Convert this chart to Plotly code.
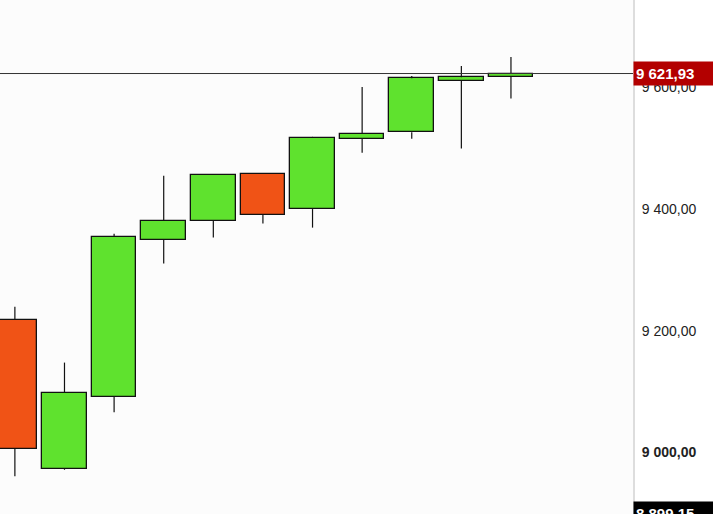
import plotly.graph_objects as go

# ---- data ----
idx = list(range(11))
opens  = [9217.5, 8973.3, 9091.3, 9348.7, 9379.8, 9456.9, 9399.5, 9514.8, 9525.7, 9610.3, 9616.9]
highs  = [9239.0, 9147.5, 9359.0, 9454.0, 9456.8, 9457.0, 9518.0, 9600.0, 9618.0, 9634.4, 9649.0]
lows   = [8961.0, 8971.6, 9066.0, 9310.3, 9353.0, 9375.9, 9369.0, 9491.8, 9514.8, 9498.9, 9580.8]
closes = [9006.0, 9097.9, 9354.0, 9379.8, 9455.2, 9389.7, 9516.4, 9523.0, 9614.3, 9615.9, 9621.93]

last_price = 9621.93
last_label = "9 621,93"
low_mark = 8899.15
low_label = "8 899,15"

tick_vals = [9000, 9200, 9400, 9600]
tick_text = ["<b>9 000,00</b>", "9 200,00", "9 400,00", "9 600,00"]

GREEN = "#5fe22e"
RED = "#f05316"

# wicks built from the data (upper and lower parts, so they do not cross the bodies)
wx, wy = [], []
for i, o, h, lo, c in zip(idx, opens, highs, lows, closes):
    top, bot = max(o, c), min(o, c)
    wx += [i, i, None, i, i, None]
    wy += [top, h, None, lo, bot, None]

body_base = [min(o, c) for o, c in zip(opens, closes)]
body_len = [abs(c - o) for o, c in zip(opens, closes)]
body_col = [GREEN if c >= o else RED for o, c in zip(opens, closes)]

fig = go.Figure()
fig.add_trace(go.Bar(x=idx, y=body_len, base=body_base, width=0.9,
                     marker=dict(color=body_col, line=dict(color="#111111", width=1.3)),
                     showlegend=False, hoverinfo="skip"))
fig.add_trace(go.Scatter(x=wx, y=wy, mode="lines", line=dict(color="#111111", width=1.2),
                         showlegend=False, hoverinfo="skip"))

fig.add_shape(type="line", xref="paper", x0=0, x1=1, yref="y", y0=last_price, y1=last_price,
              line=dict(color="#333333", width=1))

fig.add_annotation(xref="paper", x=1, xanchor="left", yref="y", y=last_price, yanchor="middle",
                   text="<b>" + last_label + "</b>", showarrow=False, align="left",
                   width=76, height=19, bgcolor="#b30000", borderpad=2,
                   font=dict(family="Liberation Sans, Arial", size=15, color="white"))
fig.add_annotation(xref="paper", x=1, xanchor="left", yref="y", y=low_mark, yanchor="middle",
                   text="<b>" + low_label + "</b>", showarrow=False, align="left",
                   width=76, height=19, bgcolor="#000000", borderpad=2,
                   font=dict(family="Liberation Sans, Arial", size=15, color="white"))

fig.update_layout(
    width=713, height=514,
    margin=dict(l=0, r=80, t=0, b=0),
    paper_bgcolor="white", plot_bgcolor="#fcfcfc",
    xaxis=dict(range=[-0.30, 12.46], visible=False),
    yaxis=dict(side="right", range=[8899.0, 9742.6], tickvals=tick_vals, ticktext=tick_text,
               showgrid=False, zeroline=False, showline=True, linecolor="#dddddd", linewidth=2,
               ticks="outside", ticklen=4, tickcolor="rgba(0,0,0,0)",
               tickfont=dict(family="Liberation Sans, Arial", size=14, color="#222222")),
    bargap=0,
)

fig.write_html("out.html", config={"displayModeBar": False},
               post_script="document.body.style.margin='0';")
